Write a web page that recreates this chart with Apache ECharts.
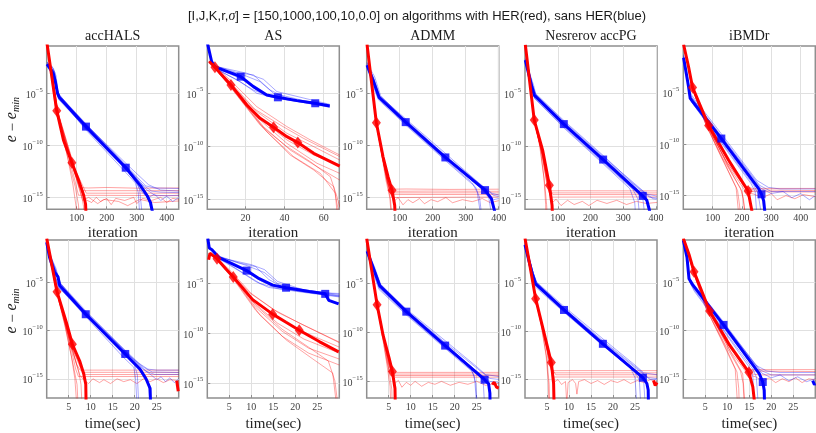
<!DOCTYPE html>
<html><head><meta charset="utf-8">
<script src="https://cdn.jsdelivr.net/npm/echarts@6/dist/echarts.min.js"></script>
<style>html,body{margin:0;padding:0;background:#fff}#c{width:816px;height:433px}</style>
</head><body><div id="c"></div>
<script>
// All y values are log10(e - e_min); x is iteration (top row) or time in seconds (bottom row).
const titles = ['accHALS', 'AS', 'ADMM', 'Nesrerov accPG', 'iBMDr'];
const yTickExps = [-15, -10, -5];
const iterTicks_accHALS = [100, 200, 300, 400];
const iterTicks_AS = [20, 40, 60];
const iterTicks_ADMM = [100, 200, 300, 400];
const iterTicks_Nesterov = [100, 200, 300, 400];
const iterTicks_iBMDr = [100, 200, 300, 400];
const timeTicks = [5, 10, 15, 20, 25];

// ---------- accHALS, iteration ----------
const accHALS_iter_redMain = [[1,-0.2],[33.5,-6.67],[56,-9.5],[84,-11.67],[106,-13.33],[123,-14.78],[129.5,-15.64],[131,-16.6]];
const accHALS_iter_redMarks = [[33.5,-6.67],[84,-11.67]];
const accHALS_iter_blueMain = [[1,-2.2],[11,-2.6],[22,-3.1],[29,-3.9],[36,-5.0],[42,-5.4],[131,-8.2],[263.5,-12.15],[313,-13.9],[335,-14.85],[346,-15.5],[354,-16.6]];
const accHALS_iter_blueMarks = [[131,-8.2],[263.5,-12.15]];
const accHALS_iter_redRuns = [
 [[1,-0.2],[31,-6.4],[67,-10.8],[87,-13.7],[98,-15.9],[100,-16.6]],
 [[1,-0.2],[36,-6.76],[80,-11.4],[109,-14.07],[140,-14.1],[200,-14.05],[300,-14.12],[441,-14.1]],
 [[1,-0.2],[33.5,-6.6],[87,-11.9],[121,-14.36],[441,-14.36]],
 [[1,-0.2],[38,-6.92],[95,-12.37],[132,-14.6],[441,-14.6]],
 [[1,-0.2],[31,-6.44],[73,-10.93],[106,-14.8],[441,-14.84]],
 [[1,-0.2],[36,-6.67],[98,-12.7],[128,-15.2],[150,-15.5],[165,-15.0],[180,-15.4],[200,-15.1],[215,-15.7],[230,-15.1],[260,-15.3],[290,-15.0],[300,-15.6],[320,-15.1],[350,-15.3],[380,-15.0],[400,-15.5],[420,-15.1],[441,-15.2]],
 [[1,-0.2],[28,-6.28],[61,-10.13],[95,-13.97],[106,-15.74],[108,-16.6]],
 [[1,-0.2],[39,-7.08],[84,-11.57],[117,-14.94],[123,-15.9],[124,-16.6]],
 [[1,-0.2],[34,-6.7],[85,-11.9],[120,-15.3],[140,-15.0],[170,-15.6],[190,-15.2],[240,-15.4],[270,-15.8],[310,-15.2],[360,-15.5],[441,-15.35]]
];
const accHALS_iter_blueRuns = [
 [[1,-2.0],[15,-2.5],[25,-2.9],[32,-4.2],[40,-5.1],[130,-7.9],[260,-11.8],[300,-13.0],[330,-13.9],[360,-14.1],[441,-14.15]],
 [[1,-2.3],[12,-2.8],[24,-3.5],[35,-4.9],[45,-5.6],[130,-8.4],[265,-12.4],[300,-13.5],[310,-14.3],[318,-16.6]],
 [[1,-2.1],[18,-2.4],[27,-3.0],[33,-4.5],[42,-5.3],[130,-8.0],[265,-12.0],[320,-13.8],[350,-14.4],[380,-14.5],[441,-14.55]],
 [[1,-2.4],[14,-3.0],[28,-4.0],[38,-5.3],[130,-8.5],[260,-12.5],[295,-13.6],[305,-14.5],[310,-16.6]],
 [[1,-2.2],[20,-2.7],[30,-3.6],[37,-4.8],[44,-5.2],[130,-8.1],[270,-12.2],[330,-14.2],[360,-14.8],[400,-14.85],[441,-14.8]],
 [[1,-2.3],[16,-2.9],[30,-4.3],[40,-5.6],[130,-8.35],[265,-12.3],[320,-14.2],[340,-15.2],[350,-16.6]],
 [[1,-2.0],[22,-2.6],[31,-3.3],[38,-4.9],[46,-5.35],[130,-7.95],[270,-11.9],[340,-13.8],[380,-14.3],[441,-14.4]],
 [[1,-2.2],[20,-2.8],[34,-4.6],[44,-5.4],[130,-8.2],[265,-12.2],[300,-13.7],[320,-14.6],[340,-15.0],[360,-14.7],[380,-15.3],[400,-14.9],[420,-15.4],[441,-15.0]]
];

// ---------- AS, iteration ----------
const AS_iter_redMain = [[1.5,-2.0],[4.4,-2.55],[8.7,-3.43],[12.6,-4.21],[20.7,-6.1],[27.5,-7.36],[34.4,-8.2],[41.2,-9.09],[46.8,-9.65],[54.9,-10.66],[68.2,-11.86]];
const AS_iter_redMarks = [[4.4,-2.55],[12.6,-4.21],[34.4,-8.2],[46.8,-9.65]];
const AS_iter_blueMain = [[0.6,-0.3],[2.7,-2.0],[4.4,-2.5],[17.6,-3.43],[24.1,-4.37],[30.9,-5.16],[36.6,-5.38],[46.3,-5.69],[55.7,-5.94],[63.1,-6.19]];
const AS_iter_blueMarks = [[17.6,-3.43],[36.6,-5.38],[55.7,-5.94]];
const AS_iter_redRuns = [
 [[1.5,-1.92],[12.1,-3.74],[25.8,-6.26],[41.2,-8.14],[53.2,-9.4],[68.2,-10.82]],
 [[1.5,-1.98],[12.1,-3.9],[25.8,-6.73],[41.2,-8.77],[54.9,-10.03],[68.2,-11.29]],
 [[1.5,-2.0],[12.1,-4.06],[27.5,-7.36],[41.2,-9.4],[54.9,-10.82],[68.2,-11.76]],
 [[1.5,-2.0],[12.1,-4.21],[27.5,-7.52],[41.2,-9.72],[56.6,-11.6],[68.2,-12.55]],
 [[1.5,-2.0],[13,-4.37],[29.2,-8.14],[42.9,-10.35],[56.6,-11.92],[68.2,-13.18]],
 [[1.5,-2.0],[13,-4.53],[29.2,-8.3],[42.9,-10.82],[54.9,-12.23],[65.1,-13.8],[67.7,-16.2]],
 [[1.5,-2.0],[12.1,-4.37],[27.5,-7.99],[41.2,-10.03],[53.2,-11.45],[63.4,-12.86],[66.8,-14.75],[68.2,-15.7]],
 [[1.5,-1.95],[10.4,-3.74],[24.1,-6.42],[37.8,-7.99],[49.7,-9.25],[68.2,-10.97]],
 [[1.5,-2.0],[13.8,-4.69],[30.9,-8.62],[44.6,-10.97],[58.3,-12.55],[66,-14.43],[66.8,-16.2]]
];
const AS_iter_blueRuns = [
 [[0.6,-0.3],[2.7,-2.0],[4.4,-2.4],[15.6,-3.05],[24.1,-3.27],[32.6,-4.69],[41.2,-5.47],[63.1,-6.1]],
 [[0.6,-0.3],[2.7,-2.0],[5.3,-2.64],[17.3,-3.58],[25.8,-4.69],[32.6,-5.25],[49.7,-5.79],[63.1,-6.26]],
 [[0.6,-0.3],[2.7,-2.0],[5.3,-2.74],[15.6,-3.74],[24.1,-4.69],[32.6,-5.31],[49.7,-5.88],[63.1,-6.32]],
 [[0.6,-0.3],[2.7,-2.0],[5.3,-2.64],[19,-3.27],[27.5,-3.9],[34.4,-5.0],[49.7,-5.69],[63.1,-6.16]],
 [[0.6,-0.3],[2.7,-2.0],[6.2,-2.8],[17.3,-3.9],[25.8,-5.0],[36.1,-5.47],[63.1,-6.26]],
 [[0.6,-0.3],[2.7,-2.0],[5.3,-2.48],[20.7,-3.11],[29.2,-3.68],[36.1,-4.84],[63.1,-6.04]]
];

// ---------- ADMM, iteration ----------
const ADMM_iter_redMain = [[1,-0.3],[29.3,-7.82],[49.5,-11.09],[64.6,-13.0],[76.8,-14.29],[84.8,-15.74],[86,-16.6]];
const ADMM_iter_redMarks = [[29.3,-7.82],[76.8,-14.29]];
const ADMM_iter_blueMain = [[1,-2.3],[19,-3.72],[37.4,-5.38],[118.2,-7.76],[238.4,-11.15],[358.6,-14.29],[377.8,-15.1],[390,-16.6]];
const ADMM_iter_blueMarks = [[118.2,-7.76],[238.4,-11.15],[358.6,-14.29]];
const ADMM_iter_redRuns = [
 [[1,-0.3],[27,-7.5],[48,-11.2],[62,-13.5],[72,-14.2],[120,-14.18],[250,-14.22],[400,-14.2]],
 [[1,-0.3],[30,-8.0],[52,-11.8],[66,-13.9],[76,-14.4],[200,-14.38],[400,-14.4]],
 [[1,-0.3],[29,-7.8],[47,-11.0],[60,-13.2],[70,-14.55],[400,-14.55]],
 [[1,-0.3],[31,-8.2],[55,-12.2],[68,-13.9],[80,-14.7],[400,-14.72]],
 [[1,-0.3],[26,-7.3],[45,-10.8],[58,-13.3],[70,-15.0],[74,-16.6]],
 [[1,-0.3],[32,-8.4],[56,-12.4],[70,-14.3],[78,-15.0],[400,-14.95]],
 [[1,-0.3],[30,-8.0],[54,-12.0],[72,-14.6],[82,-15.4],[95,-15.0],[110,-15.7],[125,-15.2],[140,-15.5],[160,-15.1],[175,-15.6],[195,-15.2],[215,-15.4],[240,-15.0],[260,-15.5],[290,-15.2],[320,-15.4],[350,-15.1],[375,-15.5],[400,-15.3]],
 [[1,-0.3],[28,-7.7],[50,-11.6],[65,-14.0],[72,-15.2],[76,-16.6]]
];
const ADMM_iter_blueRuns = [
 [[1,-2.0],[20,-3.5],[38,-5.2],[120,-7.5],[240,-10.8],[340,-13.6],[380,-14.6],[400,-14.75]],
 [[1,-2.4],[18,-3.9],[36,-5.5],[120,-8.0],[240,-11.4],[320,-13.6],[335,-14.5],[345,-16.6]],
 [[1,-2.2],[22,-3.6],[40,-5.3],[120,-7.6],[240,-11.0],[350,-13.9],[385,-14.8],[400,-14.9]],
 [[1,-2.5],[16,-4.0],[35,-5.6],[120,-8.1],[240,-11.5],[330,-14.0],[342,-15.0],[348,-16.6]],
 [[1,-2.1],[24,-3.4],[42,-5.2],[120,-7.7],[240,-11.2],[345,-14.1],[370,-15.0],[378,-16.6]],
 [[1,-2.3],[20,-3.8],[38,-5.4],[120,-7.9],[240,-11.3],[360,-14.4],[385,-15.2],[400,-15.1]]
];

// ---------- Nesterov accPG, iteration ----------
const Nesterov_iter_redMain = [[1,-0.4],[28.2,-7.52],[53.8,-10.36],[74.4,-13.68],[82.6,-15.57],[84,-16.6]];
const Nesterov_iter_redMarks = [[28.2,-7.52],[74.4,-13.68]];
const Nesterov_iter_blueMain = [[1,-1.85],[10.8,-3.1],[21,-4.37],[28.2,-5.16],[118.5,-7.9],[238.5,-11.25],[359.5,-14.68],[372,-15.1],[380,-16.04],[382,-16.6]];
const Nesterov_iter_blueMarks = [[118.5,-7.9],[238.5,-11.25],[359.5,-14.68]];
const Nesterov_iter_redRuns = [
 [[1,-0.4],[27,-7.3],[50,-10.5],[66,-13.4],[78,-14.2],[403,-14.21]],
 [[1,-0.4],[29,-7.7],[55,-10.9],[70,-13.7],[82,-14.4],[403,-14.4]],
 [[1,-0.4],[26,-7.1],[47,-10.2],[60,-13.5],[66,-15.5],[68,-16.6]],
 [[1,-0.4],[30,-7.8],[57,-11.2],[74,-14.0],[85,-14.56],[403,-14.56]],
 [[1,-0.4],[28,-7.5],[52,-10.7],[70,-14.0],[80,-14.8],[403,-14.78]],
 [[1,-0.4],[29,-7.6],[54,-11.0],[72,-14.2],[84,-15.3],[95,-15.0],[110,-15.6],[130,-15.1],[150,-15.5],[175,-15.2],[195,-15.6],[220,-15.1],[250,-15.4],[280,-15.1],[310,-15.5],[340,-15.2],[370,-15.4],[403,-15.3]],
 [[1,-0.4],[25,-7.0],[45,-10.0],[58,-13.0],[63,-15.5],[64,-16.6]]
];
const Nesterov_iter_blueRuns = [
 [[1,-1.7],[12,-3.0],[24,-4.3],[32,-5.0],[120,-7.6],[240,-10.9],[330,-13.5],[370,-14.5],[403,-14.7]],
 [[1,-2.0],[10,-3.3],[20,-4.6],[28,-5.4],[120,-8.2],[240,-11.6],[330,-14.1],[345,-15.0],[350,-16.6]],
 [[1,-1.8],[14,-3.2],[25,-4.5],[34,-5.2],[120,-7.8],[240,-11.1],[350,-14.1],[380,-14.8],[403,-14.9]],
 [[1,-1.9],[11,-3.2],[22,-4.5],[30,-5.3],[120,-8.1],[240,-11.5],[340,-14.3],[360,-15.0],[366,-16.6]],
 [[1,-1.8],[13,-3.0],[26,-4.2],[33,-5.1],[120,-7.7],[240,-11.0],[360,-14.2],[390,-14.95],[403,-15.0]],
 [[1,-2.0],[12,-3.4],[23,-4.7],[30,-5.5],[120,-8.3],[240,-11.7],[320,-14.0],[335,-15.3],[338,-16.6]]
];

// ---------- iBMDr, iteration ----------
const iBMDr_iter_redMain = [[1,-0.3],[17.9,-2.47],[31.6,-4.48],[86.3,-8.18],[154.7,-11.56],[220.9,-14.55],[234.5,-16.6]];
const iBMDr_iter_redMarks = [[31.6,-4.48],[86.3,-8.18],[220.9,-14.55]];
const iBMDr_iter_blueMain = [[1,-1.6],[17.9,-4.42],[23.6,-5.55],[129.6,-9.45],[257,-14.32],[266.5,-14.87],[274,-15.5],[278,-16.6]];
const iBMDr_iter_blueMarks = [[129.6,-9.45],[266.5,-14.87]];
const iBMDr_iter_redRuns = [
 [[1,-0.36],[18,-2.6],[30,-4.6],[80,-8.3],[140,-11.8],[185,-14.5],[192,-16.0],[194,-16.6]],
 [[1,-0.36],[16,-2.4],[28,-4.3],[75,-7.9],[135,-11.4],[195,-14.3],[205,-15.3],[210,-16.6]],
 [[1,-0.36],[19,-2.7],[32,-4.7],[85,-8.4],[150,-11.8],[210,-14.2],[240,-14.45],[450,-14.5]],
 [[1,-0.36],[17,-2.5],[29,-4.4],[78,-8.0],[145,-11.6],[205,-14.0],[235,-14.3],[450,-14.3]],
 [[1,-0.36],[20,-2.8],[34,-4.9],[90,-8.6],[150,-12.0],[200,-14.6],[210,-16.6]],
 [[1,-0.36],[18,-2.5],[31,-4.5],[82,-8.1],[155,-12.2],[215,-14.7],[240,-14.85],[270,-15.2],[300,-14.8],[320,-15.4],[350,-15.0],[380,-15.3],[410,-14.9],[450,-15.1]],
 [[1,-0.36],[16,-2.3],[27,-4.2],[70,-7.6],[125,-11.0],[180,-14.2],[188,-16.6]],
 [[1,-0.36],[19,-2.6],[33,-4.6],[88,-8.3],[160,-12.0],[225,-14.6],[260,-14.62],[450,-14.65]]
];
const iBMDr_iter_blueRuns = [
 [[1,-1.3],[15,-3.8],[22,-5.0],[130,-9.0],[250,-13.5],[290,-14.2],[330,-14.35],[450,-14.35]],
 [[1,-1.7],[19,-4.6],[26,-5.8],[130,-9.8],[240,-14.0],[255,-14.8],[265,-16.6]],
 [[1,-1.5],[17,-4.2],[24,-5.3],[130,-9.2],[260,-14.0],[300,-14.6],[450,-14.6]],
 [[1,-1.8],[20,-4.8],[28,-5.9],[130,-9.9],[230,-13.8],[245,-14.6],[250,-16.6]],
 [[1,-1.4],[16,-4.0],[23,-5.2],[130,-9.3],[265,-14.3],[300,-14.8],[340,-14.6],[370,-15.2],[400,-14.8],[430,-15.4],[450,-15.0]],
 [[1,-1.6],[18,-4.5],[25,-5.6],[130,-9.6],[255,-14.4],[270,-15.0],[275,-16.6]]
];

// ---------- accHALS, time(sec) ----------
const accHALS_time_redMain = [[0,-0.4],[2.34,-5.94],[4.47,-9.13],[5.84,-11.41],[7.5,-13.15],[8.42,-14.5],[8.88,-15.57],[8.95,-17.5]];
const accHALS_time_redMarks = [[2.34,-5.94],[5.84,-11.41]];
const accHALS_time_blueMain = [[0,-0.8],[0.67,-2.4],[1.8,-3.9],[2.57,-4.4],[2.95,-5.3],[8.88,-8.29],[17.85,-12.42],[21.2,-14.0],[22.57,-15.0],[23.5,-16.0],[23.6,-17.5]];
const accHALS_time_blueMarks = [[8.88,-8.29],[17.85,-12.42]];
const accHALS_time_tails = [{color:'red', pts:[[29.55,-15.2],[29.9,-16.3]]}];
const accHALS_time_redRuns = [
 [[0,-0.4],[2.1,-5.7],[4.2,-9.5],[5.6,-12.6],[6.4,-15.0],[6.8,-17.5]],
 [[0,-0.4],[2.4,-6.0],[5.0,-10.8],[6.8,-13.5],[7.6,-14.1],[30,-14.1]],
 [[0,-0.4],[2.3,-5.9],[5.6,-11.5],[7.6,-13.8],[8.4,-14.33],[30,-14.33]],
 [[0,-0.4],[2.5,-6.2],[6.0,-12.0],[8.0,-14.0],[8.8,-14.56],[30,-14.56]],
 [[0,-0.4],[2.2,-5.8],[4.6,-10.0],[6.6,-14.0],[7.2,-14.77],[30,-14.77]],
 [[0,-0.4],[2.4,-6.1],[5.8,-12.0],[7.5,-14.6],[8.4,-15.1],[9.5,-15.5],[10.5,-15.0],[12,-15.4],[13,-15.1],[14.5,-15.5],[16,-15.0],[17.5,-15.3],[19,-15.1],[20.5,-15.5],[22,-15.0],[23.5,-15.3],[25,-15.0],[26.5,-15.4],[28,-15.1],[30,-15.2]],
 [[0,-0.4],[2.0,-5.5],[4.0,-9.2],[6.0,-13.5],[6.9,-15.6],[7.1,-17.5]],
 [[0,-0.4],[2.6,-6.4],[5.5,-11.3],[7.3,-14.3],[7.8,-15.6],[8.0,-17.5]]
];
const accHALS_time_blueRuns = [
 [[0,-0.7],[0.8,-2.3],[2.0,-3.6],[2.8,-4.6],[3.2,-5.1],[9,-8.0],[18,-12.1],[21,-13.4],[23,-14.0],[25,-14.1],[30,-14.1]],
 [[0,-0.8],[0.7,-2.6],[1.6,-4.1],[2.5,-5.0],[3.0,-5.5],[9,-8.5],[18,-12.7],[20,-13.6],[20.6,-14.6],[20.9,-17.5]],
 [[0,-0.8],[0.9,-2.5],[1.9,-3.8],[2.7,-4.8],[3.2,-5.3],[9,-8.1],[18,-12.3],[22,-13.8],[24,-14.3],[30,-14.35]],
 [[0,-0.9],[0.6,-2.7],[1.7,-4.3],[2.6,-5.4],[9,-8.6],[17.5,-12.8],[19.8,-13.8],[20.2,-15.0],[20.5,-17.5]],
 [[0,-0.7],[1.0,-2.4],[2.1,-3.5],[2.9,-4.9],[3.3,-5.2],[9,-8.2],[18.5,-12.4],[22.5,-14.2],[24.5,-14.55],[30,-14.55]],
 [[0,-0.8],[0.8,-2.5],[1.8,-4.0],[2.7,-5.5],[9,-8.4],[18,-12.6],[21.8,-14.3],[23,-15.2],[23.5,-17.5]],
 [[0,-0.8],[1.0,-2.3],[2.0,-3.7],[2.9,-5.0],[9,-8.15],[18,-12.2],[22,-14.0],[24,-14.7],[25,-15.1],[26,-14.8],[27,-15.3],[28,-14.9],[29,-15.4],[30,-15.0]]
];

// ---------- AS, time(sec) ----------
const AS_time_redMain = [[0.3,-2.6],[0.6,-1.95],[2.2,-2.5],[4.24,-3.54],[5.9,-4.35],[10.3,-6.62],[14.85,-8.08],[17.9,-8.9],[20.9,-9.7],[25.45,-10.84],[29.85,-11.88]];
const AS_time_redMarks = [[2.2,-2.5],[5.9,-4.35],[14.85,-8.08],[20.9,-9.7]];
const AS_time_blueMain = [[0.1,-0.45],[0.45,-1.43],[1.06,-1.6],[2.7,-2.4],[8.94,-3.7],[11.8,-4.51],[14.85,-5.16],[17.9,-5.42],[23.2,-5.81],[26.8,-6.04],[27.6,-6.69],[29.85,-7.05]];
const AS_time_blueMarks = [[8.94,-3.7],[17.9,-5.42],[26.8,-6.04]];
const AS_time_redRuns = [
 [[0.6,-1.95],[2.2,-2.45],[5,-3.6],[10,-6.0],[16,-7.9],[22,-9.2],[30,-10.9]],
 [[0.6,-1.95],[2.2,-2.5],[5,-3.8],[10,-6.4],[16,-8.4],[22,-9.9],[30,-11.4]],
 [[0.6,-1.95],[2.2,-2.55],[5,-3.9],[10.5,-6.9],[16,-9.0],[22,-10.6],[30,-12.0]],
 [[0.6,-1.95],[2.2,-2.55],[5.5,-4.2],[11,-7.4],[17,-9.8],[23,-11.5],[30,-12.6]],
 [[0.6,-1.95],[2.2,-2.6],[5.5,-4.3],[11,-7.7],[17,-10.3],[23,-12.0],[30,-13.2]],
 [[0.6,-1.95],[2.2,-2.6],[6,-4.5],[12,-8.2],[18,-10.7],[24,-12.6],[28.5,-14.0],[29.2,-16.6]],
 [[0.6,-1.95],[2.2,-2.5],[5.5,-4.1],[11,-7.2],[17,-9.6],[23,-11.4],[27.5,-12.8],[29,-14.8],[29.5,-16.6]],
 [[0.6,-1.95],[2.2,-2.45],[4.5,-3.5],[9.5,-5.9],[15,-7.6],[21,-9.0],[30,-10.95]]
];
const AS_time_blueRuns = [
 [[0.1,-0.45],[0.45,-1.4],[1.1,-1.6],[3,-2.3],[7,-2.9],[11,-3.3],[14,-4.6],[17,-5.3],[23,-5.7],[30,-6.1]],
 [[0.1,-0.45],[0.45,-1.4],[1.1,-1.6],[3,-2.5],[8,-3.6],[12,-4.7],[15,-5.3],[22,-5.8],[30,-6.25]],
 [[0.1,-0.45],[0.45,-1.4],[1.1,-1.65],[3,-2.6],[7.5,-3.8],[11,-4.8],[14,-5.4],[22,-5.9],[30,-6.35]],
 [[0.1,-0.45],[0.45,-1.4],[1.1,-1.6],[3,-2.35],[9,-3.2],[13,-3.9],[16,-5.0],[22,-5.7],[30,-6.2]],
 [[0.1,-0.45],[0.45,-1.4],[1.1,-1.6],[3,-2.5],[8,-3.9],[12,-5.0],[16,-5.5],[30,-6.3]],
 [[0.1,-0.45],[0.45,-1.4],[1.1,-1.6],[3,-2.4],[10,-3.1],[13,-3.6],[16,-4.8],[22,-5.65],[26.8,-5.95],[30,-6.0]]
];

// ---------- ADMM, time(sec) ----------
const ADMM_time_redMain = [[0,-0.38],[2.36,-7.15],[3.72,-10.28],[5.08,-12.59],[5.83,-13.98],[6.43,-15.73],[6.5,-17.5]];
const ADMM_time_redMarks = [[2.36,-7.15],[5.83,-13.98]];
const ADMM_time_blueMain = [[0.1,-1.7],[1.45,-3.35],[2.96,-5.23],[9.0,-7.87],[17.83,-11.34],[26.8,-14.83],[27.7,-15.23],[28.0,-16.2],[28.05,-17.5]];
const ADMM_time_blueMarks = [[9.0,-7.87],[17.83,-11.34],[26.8,-14.83]];
const ADMM_time_tails = [{color:'red', pts:[[28.5,-15.3],[29.0,-15.1],[29.5,-15.6],[30,-15.7]]}];
const ADMM_time_redRuns = [
 [[0,-0.38],[2.2,-6.8],[3.8,-10.6],[4.8,-13.0],[5.6,-14.08],[30,-14.08]],
 [[0,-0.38],[2.5,-7.5],[4.1,-11.2],[5.3,-13.6],[6.1,-14.25],[30,-14.25]],
 [[0,-0.38],[2.3,-7.0],[3.6,-10.4],[4.6,-13.0],[5.4,-14.4],[30,-14.4]],
 [[0,-0.38],[2.6,-7.7],[4.4,-11.6],[5.6,-13.8],[6.4,-14.57],[30,-14.57]],
 [[0,-0.38],[2.1,-6.6],[3.5,-10.2],[4.5,-13.0],[5.3,-15.5],[5.5,-17.5]],
 [[0,-0.38],[2.4,-7.2],[4.2,-11.4],[5.6,-14.2],[6.4,-15.2],[7.2,-14.9],[8,-15.6],[9,-15.1],[10,-15.4],[11,-15.0],[12.5,-15.5],[14,-15.1],[15.5,-15.3],[17,-15.0],[19,-15.4],[21,-15.1],[23,-15.3],[25,-15.0],[27,-15.4],[30,-15.2]],
 [[0,-0.38],[2.3,-7.0],[4.0,-11.0],[5.1,-14.0],[5.7,-15.8],[5.8,-17.5]]
];
const ADMM_time_blueRuns = [
 [[0.1,-1.5],[1.5,-3.2],[3,-5.0],[9,-7.6],[18,-10.9],[25,-13.5],[27,-14.3],[30,-14.5]],
 [[0.1,-1.8],[1.4,-3.6],[2.9,-5.5],[9,-8.1],[18,-11.6],[23.5,-13.6],[24.5,-14.5],[25,-17.5]],
 [[0.1,-1.6],[1.6,-3.3],[3.1,-5.1],[9,-7.7],[18,-11.1],[26,-14.0],[28,-14.7],[30,-14.8]],
 [[0.1,-1.9],[1.3,-3.7],[2.8,-5.6],[9,-8.2],[18,-11.7],[24,-14.0],[24.8,-15.2],[25.1,-17.5]],
 [[0.1,-1.6],[1.7,-3.2],[3.2,-5.1],[9,-7.75],[18,-11.2],[25.5,-14.2],[26.5,-15.2],[26.8,-17.5]],
 [[0.1,-1.7],[1.5,-3.4],[3.0,-5.3],[9,-7.95],[18,-11.4],[26.5,-14.5],[28,-15.0],[30,-15.1]]
];

// ---------- Nesterov accPG, time(sec) ----------
const Nesterov_time_redMain = [[0,-0.4],[1.06,-3.07],[2.42,-6.63],[4.09,-9.73],[5.98,-13.23],[6.5,-15.4],[6.6,-17.5]];
const Nesterov_time_redMarks = [[2.42,-6.63],[5.98,-13.23]];
const Nesterov_time_blueMain = [[0,-1.07],[0.9,-2.73],[1.67,-4.07],[2.35,-5.07],[8.86,-7.8],[17.7,-11.3],[26.8,-14.8],[27.7,-15.4],[28.0,-16.07],[28.05,-17.5]];
const Nesterov_time_blueMarks = [[8.86,-7.8],[17.7,-11.3],[26.8,-14.8]];
const Nesterov_time_tails = [{color:'red', pts:[[29.2,-15.1],[29.6,-15.6],[30,-15.3]]}];
const Nesterov_time_redRuns = [
 [[0,-0.4],[2.3,-6.4],[4.0,-9.8],[5.4,-13.0],[6.2,-14.07],[30,-14.07]],
 [[0,-0.4],[2.5,-6.9],[4.3,-10.3],[5.9,-13.6],[6.7,-14.3],[30,-14.3]],
 [[0,-0.4],[2.2,-6.2],[3.8,-9.5],[5.0,-13.0],[5.5,-15.5],[5.6,-17.5]],
 [[0,-0.4],[2.6,-7.1],[4.5,-10.7],[6.1,-13.9],[7.0,-14.5],[30,-14.5]],
 [[0,-0.4],[2.4,-6.7],[4.2,-10.1],[5.8,-13.8],[6.5,-14.73],[30,-14.73]],
 [[0,-0.4],[2.5,-6.8],[4.4,-10.4],[6.0,-14.0],[6.8,-15.2],[7.5,-15.0],[8.3,-15.5],[9.2,-15.2],[9.5,-17.5],[9.8,-15.3],[10.8,-15.0],[11.5,-15.4],[11.8,-16.5],[12.2,-15.2],[13.5,-15.0],[15,-15.4],[16.5,-15.1],[18,-15.5],[19.5,-15.1],[21,-15.3],[22.5,-15.0],[24,-15.4],[25.5,-15.1],[27,-15.3],[28.5,-15.0],[30,-15.2]],
 [[0,-0.4],[2.1,-6.0],[3.6,-9.2],[4.8,-12.5],[5.3,-15.3],[5.4,-17.5]]
];
const Nesterov_time_blueRuns = [
 [[0,-0.9],[1.0,-2.6],[1.8,-3.9],[2.6,-4.9],[9,-7.5],[18,-10.9],[25,-13.5],[27,-14.3],[30,-14.5]],
 [[0,-1.2],[0.8,-2.9],[1.6,-4.3],[2.3,-5.4],[9,-8.1],[18,-11.6],[24,-13.8],[25,-14.8],[25.4,-17.5]],
 [[0,-1.0],[1.1,-2.7],[1.9,-4.0],[2.7,-5.0],[9,-7.65],[18,-11.1],[26,-14.0],[28,-14.8],[30,-14.9]],
 [[0,-1.1],[0.9,-2.9],[1.7,-4.3],[2.4,-5.3],[9,-8.0],[18,-11.5],[25,-14.2],[26,-15.1],[26.3,-17.5]],
 [[0,-1.0],[1.0,-2.6],[1.8,-3.9],[2.6,-5.0],[9,-7.7],[18,-11.2],[26.5,-14.3],[28.5,-15.0],[30,-15.0]],
 [[0,-1.1],[0.9,-2.8],[1.7,-4.2],[2.5,-5.2],[9,-7.9],[18,-11.4],[26,-14.6],[27,-15.3],[27.3,-17.5]]
];

// ---------- iBMDr, time(sec) ----------
const iBMDr_time_redMain = [[0,-0.4],[1.3,-2.08],[2.43,-3.86],[5.98,-7.95],[10.5,-11.48],[14.9,-14.33],[15.8,-15.84],[16.2,-17.5]];
const iBMDr_time_redMarks = [[2.43,-3.86],[5.98,-7.95],[14.9,-14.33]];
const iBMDr_time_blueMain = [[0,-0.6],[0.85,-2.42],[1.3,-4.6],[2.2,-5.27],[9.15,-9.4],[17.3,-14.5],[18.06,-15.34],[18.4,-16.2],[18.45,-17.5]];
const iBMDr_time_blueMarks = [[9.15,-9.4],[18.06,-15.34]];
const iBMDr_time_tails = [{color:'blue', pts:[[29.4,-15.2],[29.8,-15.6],[30,-15.5]]}];
const iBMDr_time_redRuns = [
 [[0,-0.4],[1.2,-2.2],[2.3,-4.0],[5.5,-8.0],[9.5,-11.6],[12.2,-14.3],[12.6,-16],[12.7,-17.5]],
 [[0,-0.4],[1.1,-2.0],[2.2,-3.7],[5.2,-7.6],[9.2,-11.2],[13,-14.2],[13.6,-15.5],[13.8,-17.5]],
 [[0,-0.4],[1.4,-2.3],[2.5,-4.1],[6.2,-8.3],[10.8,-11.9],[14.5,-14.0],[16,-14.2],[30,-14.25]],
 [[0,-0.4],[1.2,-2.1],[2.3,-3.8],[5.6,-7.8],[10,-11.3],[14,-13.9],[15.5,-14.05],[30,-14.05]],
 [[0,-0.4],[1.4,-2.4],[2.6,-4.2],[6.4,-8.5],[10.5,-12.0],[13.5,-14.5],[14,-17.5]],
 [[0,-0.4],[1.3,-2.2],[2.4,-3.9],[6.0,-8.1],[10.8,-12.2],[14.8,-14.6],[16.5,-14.8],[18,-15.3],[19.5,-14.9],[21,-15.4],[22.5,-15.0],[24,-15.3],[25.5,-14.9],[27,-15.4],[28.5,-15.0],[30,-15.1]],
 [[0,-0.4],[1.1,-1.9],[2.1,-3.6],[4.8,-7.3],[8.5,-10.8],[11.8,-14.0],[12.3,-17.5]],
 [[0,-0.4],[1.3,-2.2],[2.5,-4.0],[6.3,-8.2],[11.2,-12.0],[15.5,-14.5],[17.5,-14.6],[30,-14.6]]
];
const iBMDr_time_blueRuns = [
 [[0,-0.5],[0.8,-2.2],[1.2,-4.3],[2.0,-5.0],[9,-9.0],[16.5,-13.6],[19,-14.2],[22,-14.35],[30,-14.35]],
 [[0,-0.7],[0.9,-2.6],[1.4,-4.9],[2.4,-5.7],[9,-9.8],[15.8,-14.0],[16.6,-14.8],[17,-17.5]],
 [[0,-0.6],[0.85,-2.4],[1.3,-4.5],[2.1,-5.2],[9,-9.2],[17.5,-14.1],[20,-14.6],[30,-14.6]],
 [[0,-0.8],[0.95,-2.7],[1.5,-5.0],[2.5,-5.9],[9,-9.9],[15,-13.8],[15.8,-14.7],[16.1,-17.5]],
 [[0,-0.5],[0.8,-2.3],[1.25,-4.4],[2.0,-5.1],[9,-9.3],[17.8,-14.4],[20,-14.9],[22,-14.6],[24,-15.2],[26,-14.8],[28,-15.3],[30,-15.0]],
 [[0,-0.7],[0.9,-2.5],[1.4,-4.7],[2.3,-5.5],[9,-9.6],[17,-14.4],[18,-15.0],[18.3,-17.5]]
];

// ---------- layout (positions/ranges only) ----------
const panelDefs = [
 {col:0,row:0,x:[0,440],y:[-16.15,-0.45],xt:iterTicks_accHALS,rm:accHALS_iter_redMain,rk:accHALS_iter_redMarks,bm:accHALS_iter_blueMain,bk:accHALS_iter_blueMarks,rr:accHALS_iter_redRuns,br:accHALS_iter_blueRuns,tl:[]},
 {col:1,row:0,x:[0.5,68],y:[-15.94,-0.54],xt:iterTicks_AS,rm:AS_iter_redMain,rk:AS_iter_redMarks,bm:AS_iter_blueMain,bk:AS_iter_blueMarks,rr:AS_iter_redRuns,br:AS_iter_blueRuns,tl:[]},
 {col:2,row:0,x:[0,400],y:[-16.13,-0.45],xt:iterTicks_ADMM,rm:ADMM_iter_redMain,rk:ADMM_iter_redMarks,bm:ADMM_iter_blueMain,bk:ADMM_iter_blueMarks,rr:ADMM_iter_redRuns,br:ADMM_iter_blueRuns,tl:[]},
 {col:3,row:0,x:[0,403],y:[-15.95,-0.52],xt:iterTicks_Nesterov,rm:Nesterov_iter_redMain,rk:Nesterov_iter_redMarks,bm:Nesterov_iter_blueMain,bk:Nesterov_iter_blueMarks,rr:Nesterov_iter_redRuns,br:Nesterov_iter_blueRuns,tl:[]},
 {col:4,row:0,x:[0,450],y:[-16.33,-0.45],xt:iterTicks_iBMDr,rm:iBMDr_iter_redMain,rk:iBMDr_iter_redMarks,bm:iBMDr_iter_blueMain,bk:iBMDr_iter_blueMarks,rr:iBMDr_iter_redRuns,br:iBMDr_iter_blueRuns,tl:[]},
 {col:0,row:1,x:[0,30],y:[-17.0,-0.57],xt:timeTicks,rm:accHALS_time_redMain,rk:accHALS_time_redMarks,bm:accHALS_time_blueMain,bk:accHALS_time_blueMarks,rr:accHALS_time_redRuns,br:accHALS_time_blueRuns,tl:accHALS_time_tails},
 {col:1,row:1,x:[0,30],y:[-16.52,-0.62],xt:timeTicks,rm:AS_time_redMain,rk:AS_time_redMarks,bm:AS_time_blueMain,bk:AS_time_blueMarks,rr:AS_time_redRuns,br:AS_time_blueRuns,tl:[]},
 {col:2,row:1,x:[0,30],y:[-16.7,-0.54],xt:timeTicks,rm:ADMM_time_redMain,rk:ADMM_time_redMarks,bm:ADMM_time_blueMain,bk:ADMM_time_blueMarks,rr:ADMM_time_redRuns,br:ADMM_time_blueRuns,tl:ADMM_time_tails},
 {col:3,row:1,x:[0,30],y:[-16.9,-0.57],xt:timeTicks,rm:Nesterov_time_redMain,rk:Nesterov_time_redMarks,bm:Nesterov_time_blueMain,bk:Nesterov_time_blueMarks,rr:Nesterov_time_redRuns,br:Nesterov_time_blueRuns,tl:Nesterov_time_tails},
 {col:4,row:1,x:[0,30],y:[-17.0,-0.57],xt:timeTicks,rm:iBMDr_time_redMain,rk:iBMDr_time_redMarks,bm:iBMDr_time_blueMain,bk:iBMDr_time_blueMarks,rr:iBMDr_time_redRuns,br:iBMDr_time_blueRuns,tl:iBMDr_time_tails}
];

const SERIF = '"Liberation Serif","DejaVu Serif",serif';
const lefts = [46.7, 207.3, 366.7, 525, 683.3];
const tops = [46, 240];
const W = 132, H = 163.3;
const frame = '#8f8f8f';
const gridCol = '#e0e0e0';
const faintRed = 'rgba(255,0,0,0.36)';
const faintBlue = 'rgba(0,0,255,0.34)';

const grid = [], xAxis = [], yAxis = [], series = [];
panelDefs.forEach((p, i) => {
  grid.push({left: lefts[p.col], top: tops[p.row], width: W, height: H, show: true,
    borderColor: frame, borderWidth: 1.5, backgroundColor: '#fff'});
  xAxis.push({type: 'value', gridIndex: i, min: p.x[0], max: p.x[1],
    name: p.row === 0 ? 'iteration' : 'time(sec)', nameLocation: 'middle', nameGap: p.row === 0 ? 16 : 19,
    nameMoveOverlap: false,
    nameTextStyle: {fontFamily: SERIF, fontSize: 15, color: '#262626'},
    axisLine: {show: false},
    axisTick: {show: true, inside: true, length: 3, customValues: p.xt, lineStyle: {color: frame}},
    axisLabel: {customValues: p.xt, fontFamily: SERIF, fontSize: 10, color: '#404040', margin: 4},
    splitLine: {show: true, lineStyle: {color: gridCol, width: 1}}
  });
  yAxis.push({type: 'value', gridIndex: i, min: p.y[0], max: p.y[1],
    name: p.col === 0 ? '{i|e} − {i|e}{s|min}' : '', nameLocation: 'middle', nameGap: 25, nameRotate: 90,
    nameMoveOverlap: false,
    nameTextStyle: {fontFamily: SERIF, fontSize: 15, color: '#262626', padding: [0, 0, 0, 16],
      rich: {i: {fontFamily: SERIF, fontStyle: 'italic', fontSize: 16, lineHeight: 18, verticalAlign: 'top'},
             s: {fontFamily: SERIF, fontStyle: 'italic', fontSize: 10, lineHeight: 10, verticalAlign: 'bottom'}}},
    axisLine: {show: false},
    axisTick: {show: true, inside: true, length: 3, customValues: yTickExps, lineStyle: {color: frame}},
    axisLabel: {customValues: yTickExps, margin: 4, color: '#404040',
      formatter: v => '{b|10}{s|−' + Math.abs(v) + '}',
      rich: {b: {fontFamily: SERIF, fontSize: 10, lineHeight: 14, verticalAlign: 'bottom'},
             s: {fontFamily: SERIF, fontSize: 6.5, lineHeight: 9, verticalAlign: 'top'}}},
    splitLine: {show: true, lineStyle: {color: gridCol, width: 1}}
  });
  const base = {xAxisIndex: i, yAxisIndex: i, silent: true, animation: false};
  p.rr.forEach(d => series.push(Object.assign({type: 'line', data: d, showSymbol: false, z: 2,
    lineStyle: {color: faintRed, width: 1}}, base)));
  p.br.forEach(d => series.push(Object.assign({type: 'line', data: d, showSymbol: false, z: 2,
    lineStyle: {color: faintBlue, width: 1}}, base)));
  series.push(Object.assign({type: 'line', data: p.bm, showSymbol: false, z: 3,
    lineStyle: {color: '#0000ff', width: 3}}, base));
  series.push(Object.assign({type: 'line', data: p.rm, showSymbol: false, z: 4,
    lineStyle: {color: '#ff0000', width: 3}}, base));
  p.tl.forEach(t => series.push(Object.assign({type: 'line', data: t.pts, showSymbol: false, z: 4,
    lineStyle: {color: t.color === 'red' ? '#ff0000' : '#0000ff', width: 3}}, base)));
  series.push(Object.assign({type: 'scatter', data: p.bk, symbol: 'rect', symbolSize: 8, z: 5,
    itemStyle: {color: '#0000ff'}}, base));
  series.push(Object.assign({type: 'scatter', data: p.rk, symbol: 'diamond', symbolSize: [9, 12], z: 6,
    itemStyle: {color: '#ff0000'}}, base));
});

const graphic = [
  {type: 'text', x: 417, y: 16, style: {text: '[I,J,K,r,{i|σ}] = [150,1000,100,10,0.0] on algorithms with HER(red), sans HER(blue)',
    fill: '#1a1a1a', font: '13px "Liberation Sans", Arial, sans-serif', align: 'center', verticalAlign: 'middle',
    rich: {i: {fontFamily: SERIF, fontStyle: 'italic', fontSize: 14}}}}
];
titles.forEach((t, c) => graphic.push({type: 'text', x: lefts[c] + W / 2, y: 36,
  style: {text: t, fill: '#1a1a1a', font: '14px ' + SERIF, align: 'center', verticalAlign: 'middle'}}));

const chart = echarts.init(document.getElementById('c'), null, {renderer: 'canvas'});
chart.setOption({animation: false, backgroundColor: '#fff', grid, xAxis, yAxis, series, graphic});
</script></body></html>
